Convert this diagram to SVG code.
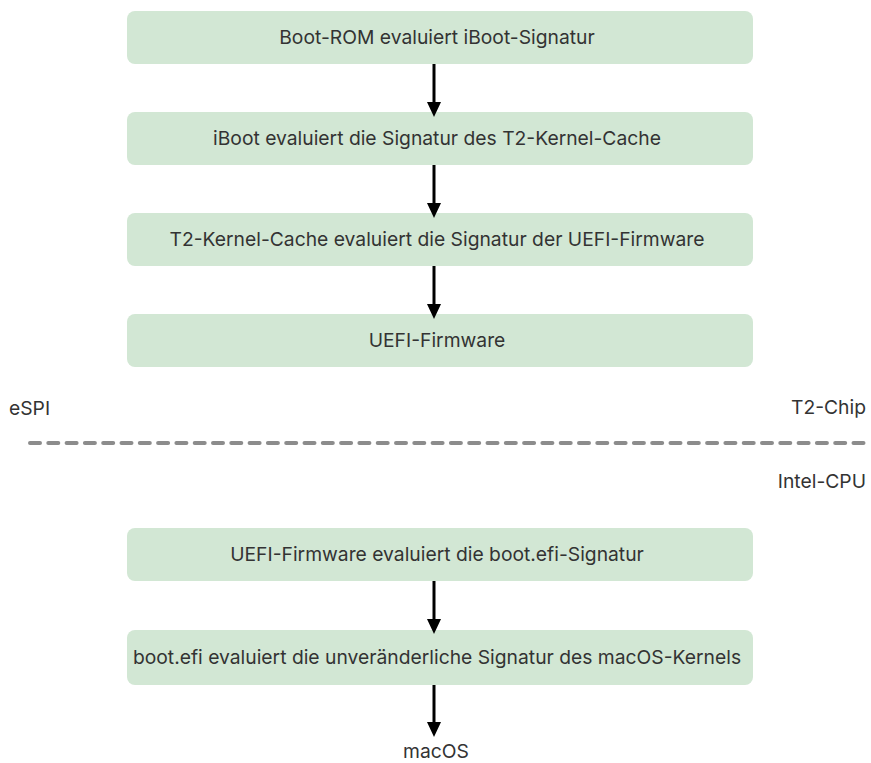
<svg xmlns="http://www.w3.org/2000/svg" width="871" height="763" viewBox="0 0 871 763">
<style>
.box{fill:#d2e7d4;}
.t{font-family:Inter,"Noto Sans","Liberation Sans",sans-serif;font-size:19.3px;fill:#333333;}
.c{text-anchor:middle;}
.e{text-anchor:end;}
.arr{stroke:#000;stroke-width:3;fill:none;marker-end:url(#ah);}
.dash{stroke:#8c8c8c;stroke-width:4;stroke-linecap:round;stroke-dasharray:10 8.3;fill:none;}
</style>
<defs>
<marker id="ah" markerUnits="userSpaceOnUse" viewBox="0 0 15 14" markerWidth="15" markerHeight="14" refX="5" refY="7" orient="auto">
<path d="M0,0 L15,7 L0,14 Z" fill="#000"/>
</marker>
</defs>
<rect width="871" height="763" fill="#fff"/>
<g id="n1"><rect class="box" x="127" y="11" width="626" height="53" rx="8"/><text class="t c" x="437" y="44">Boot-ROM evaluiert iBoot-Signatur</text></g>
<g id="n2"><rect class="box" x="127" y="112" width="626" height="53" rx="8"/><text class="t c" x="437" y="145">iBoot evaluiert die Signatur des T2-Kernel-Cache</text></g>
<g id="n3"><rect class="box" x="127" y="213" width="626" height="53" rx="8"/><text class="t c" x="437" y="246">T2-Kernel-Cache evaluiert die Signatur der UEFI-Firmware</text></g>
<g id="n4"><rect class="box" x="127" y="314" width="626" height="53" rx="8"/><text class="t c" x="437" y="347">UEFI-Firmware</text></g>
<g id="n5"><rect class="box" x="127" y="528" width="626" height="53" rx="8"/><text class="t c" x="437" y="561">UEFI-Firmware evaluiert die boot.efi-Signatur</text></g>
<g id="n6"><rect class="box" x="127" y="630" width="626" height="55" rx="8"/><text class="t c" x="437" y="664">boot.efi evaluiert die unveränderliche Signatur des macOS-Kernels</text></g>
<g id="labels">
<text class="t" x="9" y="415">eSPI</text>
<text class="t e" x="866" y="414">T2-Chip</text>
<text class="t e" x="866" y="488">Intel-CPU</text>
<text class="t c" x="436" y="758">macOS</text>
</g>
<g id="connectors">
<line class="dash" x1="30" y1="443" x2="866" y2="443"/>
<line class="arr" x1="434" y1="64" x2="434" y2="107"/>
<line class="arr" x1="434" y1="165" x2="434" y2="208"/>
<line class="arr" x1="434" y1="266" x2="434" y2="309"/>
<line class="arr" x1="434" y1="581" x2="434" y2="624"/>
<line class="arr" x1="434" y1="685" x2="434" y2="727"/>
</g>
</svg>
